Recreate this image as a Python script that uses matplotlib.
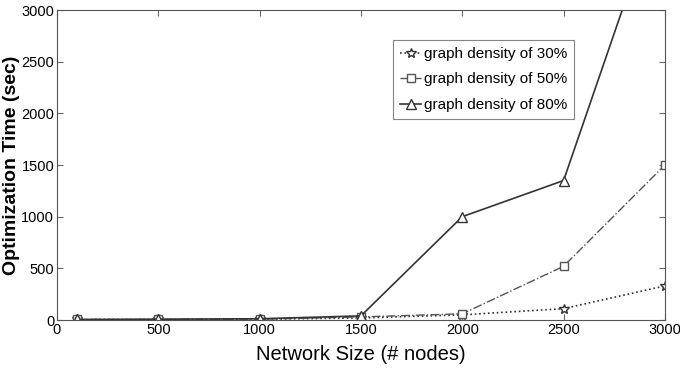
import matplotlib
matplotlib.use("Agg")
import matplotlib.pyplot as plt

plt.rcParams['font.family'] = ['Liberation Sans', 'DejaVu Sans']

sizes = [100, 500, 1000, 1500, 2000, 2500, 3000]
d30 = [5, 5, 8, 20, 50, 110, 330]
d50 = [5, 5, 8, 30, 60, 520, 1500]
d80 = [5, 8, 12, 40, 1000, 1350, 4200]
labels = ['graph density of 30%', 'graph density of 50%', 'graph density of 80%']
xticks = [0, 500, 1000, 1500, 2000, 2500, 3000]
yticks = [0, 500, 1000, 1500, 2000, 2500, 3000]

fig = plt.figure(figsize=(6.8, 3.68), dpi=100)
ax = fig.add_axes([0.0838, 0.1304, 0.894, 0.8424])

ax.plot(sizes, d30, linestyle=':', color='#333333', lw=1.2, marker='*', ms=7,
        mfc='white', mec='#333333', label=labels[0])
ax.plot(sizes, d50, linestyle='-.', color='#555555', lw=1.0, marker='s', ms=6,
        mfc='white', mec='#555555', label=labels[1])
ax.plot(sizes, d80, linestyle='-', color='#333333', lw=1.2, marker='^', ms=7,
        mfc='white', mec='#333333', label=labels[2])

ax.set_xlim(0, 3000)
ax.set_ylim(0, 3000)
ax.set_xticks(xticks)
ax.set_yticks(yticks)
ax.tick_params(direction='in', top=True, right=True, labelsize=10.5, length=4,
               color='#666666', pad=2)
for s in ax.spines.values():
    s.set_color('#555555')

ax.set_xlabel('Network Size (# nodes)', fontsize=14.5, labelpad=6)
ax.set_ylabel('Optimization Time (sec)', fontsize=14, fontweight='bold', labelpad=1)

leg = ax.legend(loc='upper left', bbox_to_anchor=(0.553, 0.903), fontsize=11,
                frameon=True, fancybox=False, edgecolor='#666666',
                handlelength=1.4, handletextpad=0.15, borderpad=0.45,
                labelspacing=0.75, borderaxespad=0)
leg.get_frame().set_linewidth(0.8)

fig.savefig('out.png', dpi=100)
